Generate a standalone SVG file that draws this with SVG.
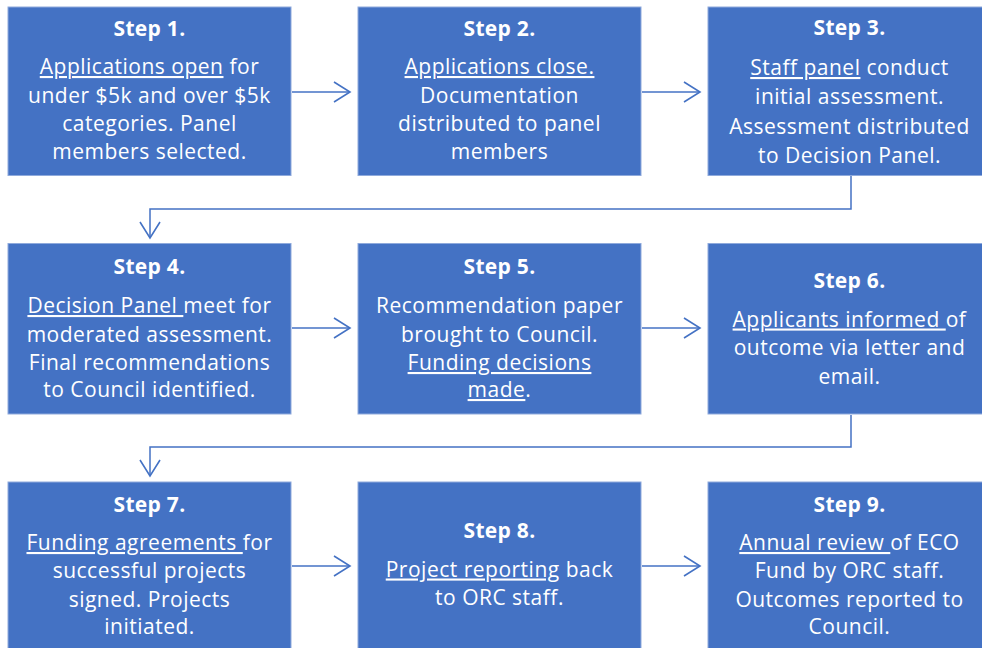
<svg xmlns="http://www.w3.org/2000/svg" width="982" height="648" viewBox="0 0 982 648">
  <defs>
    <style>
      .box { fill: #4472C4; stroke: #8FAADC; stroke-width: 1; }
      .t { font-family: "Open Sans", "Liberation Sans", sans-serif; font-size: 21px; fill: #FFFFFF; text-anchor: middle; letter-spacing: 0.5px; }
      .h { font-weight: bold; letter-spacing: 0.3px; }
      .u { text-decoration: underline; }
      .conn { fill: none; stroke: #4472C4; stroke-width: 1.5; }
    </style>
    <marker id="chev" viewBox="0 0 20 24" refX="18" refY="12" markerWidth="20" markerHeight="24" markerUnits="userSpaceOnUse" orient="auto">
      <path d="M2,2 L18,12 L2,22" fill="none" stroke="#4472C4" stroke-width="1.6"/>
    </marker>
  </defs>
  <rect width="982" height="648" fill="#FFFFFF"/>

  <!-- connectors -->
  <g id="connectors">
    <path class="conn" d="M292,92 H350" marker-end="url(#chev)"/>
    <path class="conn" d="M642,92 H700" marker-end="url(#chev)"/>
    <path class="conn" d="M851,176 V209 H150 V238" marker-end="url(#chev)"/>
    <path class="conn" d="M292,328 H350" marker-end="url(#chev)"/>
    <path class="conn" d="M642,328 H700" marker-end="url(#chev)"/>
    <path class="conn" d="M851,415 V447 H150 V476" marker-end="url(#chev)"/>
    <path class="conn" d="M292,566 H350" marker-end="url(#chev)"/>
    <path class="conn" d="M642,566 H700" marker-end="url(#chev)"/>
  </g>

  <!-- row 1 -->
  <g id="step1">
    <rect class="box" x="8" y="7" width="283" height="168.5"/>
    <text class="t h" x="149.5" y="36">Step 1.</text>
    <text class="t" x="149.5" y="74"><tspan class="u">Applications open</tspan> for</text>
    <text class="t" x="149.5" y="102.5">under $5k and over $5k</text>
    <text class="t" x="149.5" y="131">categories.  Panel</text>
    <text class="t" x="149.5" y="158.5">members selected.</text>
  </g>
  <g id="step2">
    <rect class="box" x="358" y="7" width="283" height="168.5"/>
    <text class="t h" x="499.5" y="36">Step 2.</text>
    <text class="t" x="499.5" y="74"><tspan class="u">Applications close.</tspan></text>
    <text class="t" x="499.5" y="102.5">Documentation</text>
    <text class="t" x="499.5" y="131">distributed to panel</text>
    <text class="t" x="499.5" y="158.5">members</text>
  </g>
  <g id="step3">
    <rect class="box" x="708" y="7" width="283" height="168.5"/>
    <text class="t h" x="849.5" y="35">Step 3.</text>
    <text class="t" x="849.5" y="75"><tspan class="u">Staff panel</tspan> conduct</text>
    <text class="t" x="849.5" y="104">initial assessment.</text>
    <text class="t" x="849.5" y="133.5">Assessment distributed</text>
    <text class="t" x="849.5" y="163">to Decision Panel.</text>
  </g>

  <!-- row 2 -->
  <g id="step4">
    <rect class="box" x="8" y="243.5" width="283" height="170.5"/>
    <text class="t h" x="149.5" y="274">Step 4.</text>
    <text class="t" x="149.5" y="313"><tspan class="u">Decision Panel </tspan>meet for</text>
    <text class="t" x="149.5" y="341.5">moderated assessment.</text>
    <text class="t" x="149.5" y="370">Final recommendations</text>
    <text class="t" x="149.5" y="397">to Council identified.</text>
  </g>
  <g id="step5">
    <rect class="box" x="358" y="243.5" width="283" height="170.5"/>
    <text class="t h" x="499.5" y="274">Step 5.</text>
    <text class="t" x="499.5" y="313">Recommendation paper</text>
    <text class="t" x="499.5" y="341.5">brought to Council.</text>
    <text class="t" x="499.5" y="370"><tspan class="u">Funding decisions</tspan></text>
    <text class="t" x="499.5" y="397"><tspan class="u">made</tspan>.</text>
  </g>
  <g id="step6">
    <rect class="box" x="708" y="243.5" width="283" height="170.5"/>
    <text class="t h" x="849.5" y="288">Step 6.</text>
    <text class="t" x="849.5" y="326.5"><tspan class="u">Applicants informed </tspan>of</text>
    <text class="t" x="849.5" y="355">outcome via letter and</text>
    <text class="t" x="849.5" y="383.5">email.</text>
  </g>

  <!-- row 3 -->
  <g id="step7">
    <rect class="box" x="8" y="482" width="283" height="172"/>
    <text class="t h" x="149.5" y="511.5">Step 7.</text>
    <text class="t" x="149.5" y="550"><tspan class="u">Funding agreements </tspan>for</text>
    <text class="t" x="149.5" y="578">successful projects</text>
    <text class="t" x="149.5" y="606.5">signed.  Projects</text>
    <text class="t" x="149.5" y="633.5">initiated.</text>
  </g>
  <g id="step8">
    <rect class="box" x="358" y="482" width="283" height="172"/>
    <text class="t h" x="499.5" y="538">Step 8.</text>
    <text class="t" x="499.5" y="576.5"><tspan class="u">Project reporting</tspan> back</text>
    <text class="t" x="499.5" y="605">to ORC staff.</text>
  </g>
  <g id="step9">
    <rect class="box" x="708" y="482" width="283" height="172"/>
    <text class="t h" x="849.5" y="511.5">Step 9.</text>
    <text class="t" x="849.5" y="550"><tspan class="u">Annual review </tspan>of ECO</text>
    <text class="t" x="849.5" y="578">Fund by ORC staff.</text>
    <text class="t" x="849.5" y="606.5">Outcomes reported to</text>
    <text class="t" x="849.5" y="633.5">Council.</text>
  </g>
</svg>
